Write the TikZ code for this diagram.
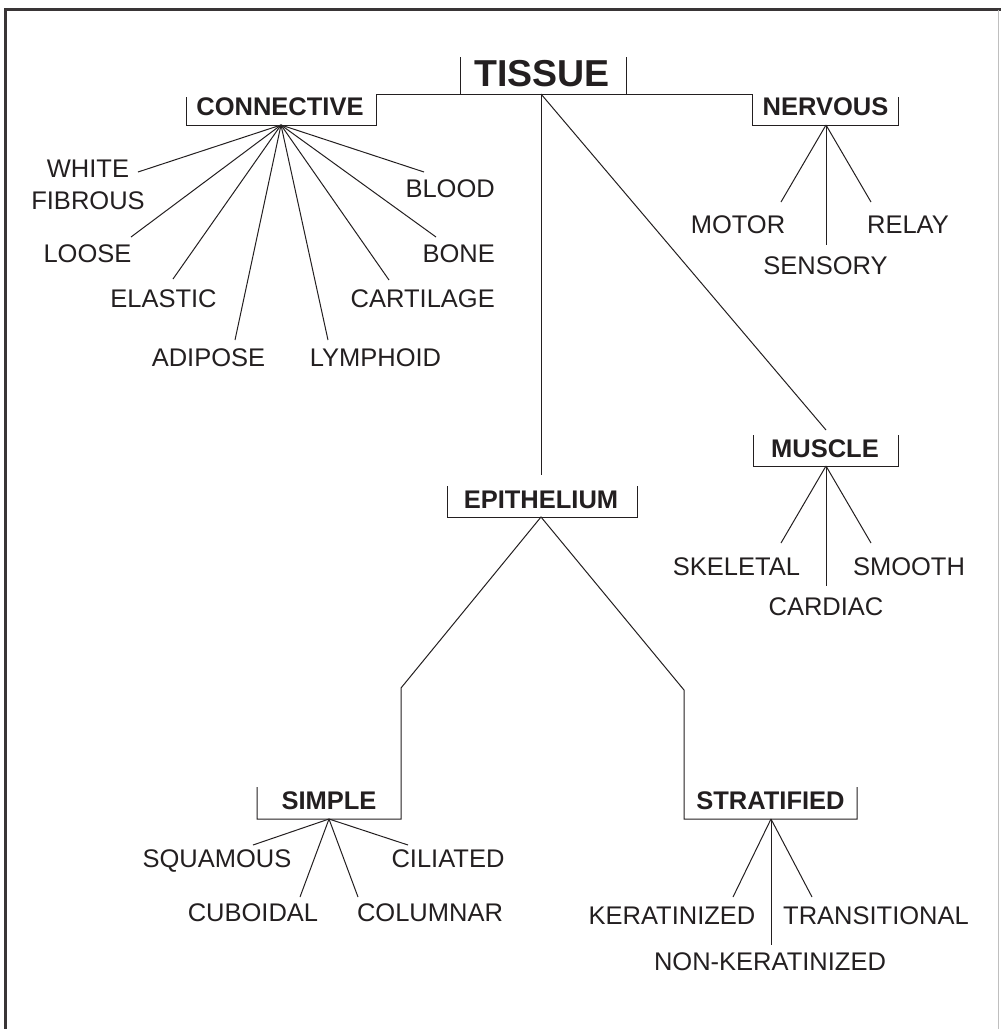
\documentclass[tikz,border=0pt]{standalone}
\usepackage{fontspec}
\setmainfont{Liberation Sans}
\definecolor{ink}{RGB}{35,31,32}
\begin{document}
\begin{tikzpicture}[x=1pt,y=-1pt,
  lbl/.style={font=\fontsize{25.5}{32}\selectfont, text=ink, inner sep=0pt, align=center},
  hdr/.style={font=\fontsize{25.5}{32}\selectfont\bfseries, text=ink, inner sep=0pt},
  ln/.style={line width=1pt, draw=ink, line join=miter}]
\useasboundingbox (0,0) rectangle (1001,1029);
% frame
\draw[line width=2.5pt, draw=ink!90] (5.5,1029) |- (1001,9.5);
\draw[line width=0.8pt, draw=black!25] (998.5,9.5) -- (998.5,1029);

% headers
\node[hdr, font=\fontsize{37.5}{40}\selectfont\bfseries, anchor=base] (tissue) at (542,86) {TISSUE};
\node[hdr, anchor=base] (conn) at (280,115) {CONNECTIVE};
\node[hdr, anchor=base] (nerv) at (825.5,115) {NERVOUS};
\node[hdr, anchor=base] (musc) at (825,457) {MUSCLE};
\node[hdr, anchor=base] (epi) at (541,508) {EPITHELIUM};
\node[hdr, anchor=base] (simp) at (329,809) {SIMPLE};
\node[hdr, anchor=base] (strat) at (770.5,809) {STRATIFIED};

% fan origins
\coordinate (tisF) at (541,94);
\coordinate (conF) at (281,125);
\coordinate (nerF) at (826,125);
\coordinate (musF) at (826,466);
\coordinate (epiF) at (541,517);
\coordinate (simF) at (329,819);
\coordinate (strF) at (771,819);

% brackets
\draw[ln] (460,57) -- (460,94);
\draw[ln] (626,57) -- (626,94);
\draw[ln] (186,97) |- (376,125) -- (376,94) -- (752,94) -- (752,125) -| (898,97);
\draw[ln] (753,435) |- (898,466) -- (898,435);
\draw[ln] (447.5,486) |- (637,517) -- (637,486);
\coordinate (elL) at (401,688);
\coordinate (elR) at (684,690);
\draw[ln] (257,787) |- (401,819) -- (elL) -- (epiF) -- (elR) -- (684,819) -| (857,787);

% tissue to epithelium and muscle
\coordinate (epiTop) at (541,475);
\coordinate (musTop) at (826,430);
\draw[ln] (tisF) -- (epiTop);
\draw[ln] (tisF) -- (musTop);

% connective children
\node[lbl, anchor=base] (white) at (88,209) {WHITE\\FIBROUS};
\node[lbl, anchor=base] (loose) at (87.5,262) {LOOSE};
\node[lbl, anchor=base] (elastic) at (163.5,307) {ELASTIC};
\node[lbl, anchor=base] (adipose) at (208.5,366) {ADIPOSE};
\node[lbl, anchor=base] (lymph) at (375.5,366) {LYMPHOID};
\node[lbl, anchor=base east] (cart) at (495,307) {CARTILAGE};
\node[lbl, anchor=base east] (bone) at (495,262) {BONE};
\node[lbl, anchor=base east] (blood) at (495,197) {BLOOD};
\coordinate (cWhite) at (138,172);
\coordinate (cLoose) at (131,237);
\coordinate (cElastic) at (173,279);
\coordinate (cAdipose) at (235,340);
\coordinate (cLymph) at (328,340);
\coordinate (cCart) at (389,280);
\coordinate (cBone) at (436,237);
\coordinate (cBlood) at (424,172);
\foreach \e in {cWhite,cLoose,cElastic,cAdipose,cLymph,cCart,cBone,cBlood}
  \draw[ln] (conF) -- (\e);

% nervous children
\node[lbl, anchor=base] (motor) at (738,233) {MOTOR};
\node[lbl, anchor=base] (relay) at (908,233) {RELAY};
\node[lbl, anchor=base] (sensory) at (825.5,274) {SENSORY};
\coordinate (nMotor) at (781,202);
\coordinate (nRelay) at (871,202);
\coordinate (nSens) at (826,245);
\foreach \e in {nMotor,nRelay,nSens}
  \draw[ln] (nerF) -- (\e);

% muscle children
\node[lbl, anchor=base] (skel) at (736.5,575) {SKELETAL};
\node[lbl, anchor=base] (smooth) at (909,575) {SMOOTH};
\node[lbl, anchor=base] (card) at (826,615) {CARDIAC};
\coordinate (mSkel) at (781,543);
\coordinate (mSmooth) at (871,543);
\coordinate (mCard) at (826,586);
\foreach \e in {mSkel,mSmooth,mCard}
  \draw[ln] (musF) -- (\e);

% simple children
\node[lbl, anchor=base] (squam) at (217,867) {SQUAMOUS};
\node[lbl, anchor=base] (cilia) at (448,867) {CILIATED};
\node[lbl, anchor=base] (cubo) at (253,921) {CUBOIDAL};
\node[lbl, anchor=base] (colu) at (430,921) {COLUMNAR};
\coordinate (sSquam) at (253,845);
\coordinate (sCilia) at (408,845);
\coordinate (sCubo) at (300,897);
\coordinate (sColu) at (358,897);
\foreach \e in {sSquam,sCilia,sCubo,sColu}
  \draw[ln] (simF) -- (\e);

% stratified children
\node[lbl, anchor=base] (kera) at (672,924) {KERATINIZED};
\node[lbl, anchor=base] (trans) at (876,924) {TRANSITIONAL};
\node[lbl, anchor=base] (nonk) at (770,970) {NON-KERATINIZED};
\coordinate (tKera) at (733,897);
\coordinate (tTrans) at (812,897);
\coordinate (tNon) at (771,945);
\foreach \e in {tKera,tTrans,tNon}
  \draw[ln] (strF) -- (\e);
\end{tikzpicture}
\end{document}
